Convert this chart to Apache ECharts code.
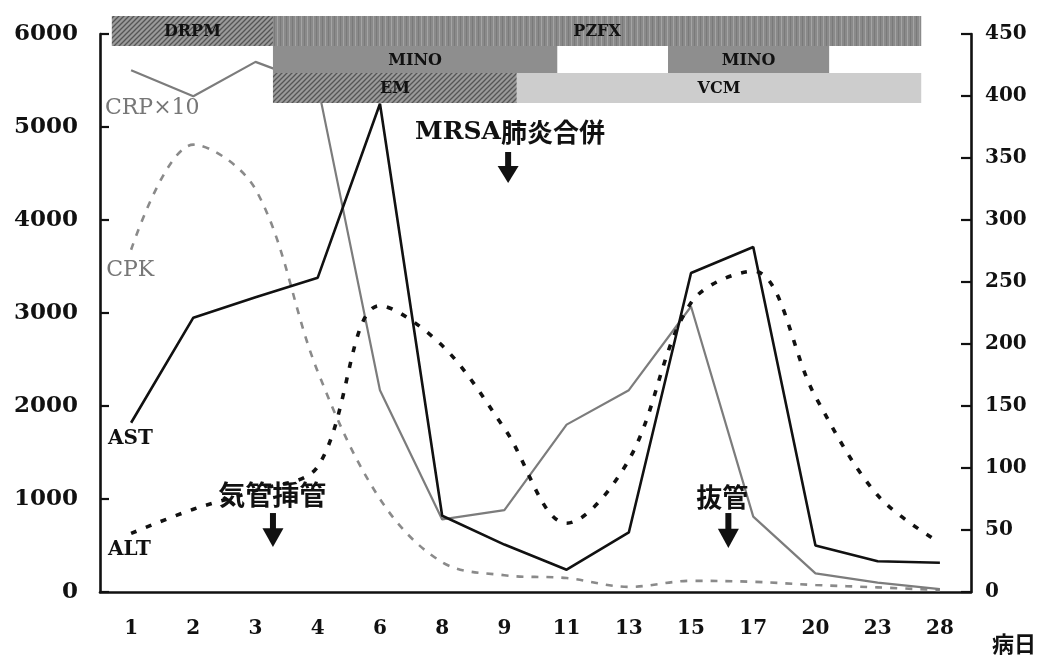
<!DOCTYPE html>
<html><head><meta charset="utf-8">
<script src="https://cdn.jsdelivr.net/npm/echarts@6/dist/echarts.min.js"></script>
<style>html,body{margin:0;padding:0;background:#fff}#c{width:1040px;height:657px}</style>
</head><body><div id="c"></div>
<script>
// ---- data ----
const days = ['1','2','3','4','6','8','9','11','13','15','17','20','23','28'];
const AST   = [1820, 2950, 3170, 3380, 5250, 820, 510, 240, 640, 3430, 3710, 500, 330, 315];
const ALT   = [630, 890, 1090, 1350, 3080, 2650, 1760, 740, 1420, 3110, 3450, 2100, 1040, 530];
const CRP10 = [5610, 5330, 5700, 5450, 2170, 780, 880, 1800, 2170, 3070, 810, 200, 100, 30];
const CPK   = [3680, 4810, 4330, 2370, 1000, 320, 180, 150, 55, 120, 110, 75, 50, 20];
const leftMax = 6000, leftStep = 1000;
const rightMax = 450, rightStep = 50;

// drug administration periods (in category-index units along the day axis)
const drugNames = ['DRPM', 'PZFX', 'MINO', 'MINO', 'EM', 'VCM'];
const drugStart = [0.19, 2.78, 2.78, 9.13, 2.78, 6.70];
const drugEnd   = [2.78, 13.2, 7.35, 11.72, 6.70, 13.2];
const drugRow   = [0, 0, 1, 1, 2, 2];
const drugFill  = ['diag', 'vert', 'solid', 'solid', 'diag', 'light'];

// annotations
const noteText = ['CRP×10', 'CPK', 'AST', 'ALT', '気管挿管', 'MRSA肺炎合併', '抜管'];
const noteU    = [0.08, 0.10, 0.13, 0.13, 2.77, 6.59, 10.0];
const noteV    = [5204, 3462, 1645, 452, 1043, 4946, 1022];
const arrowU   = [2.78, 6.56, 10.10];
const arrowTop = [849, 4731, 849];
const arrowBot = [484, 4398, 473];

// ---- styling helpers ----
const SERIF = '"DejaVu Serif", serif';
const CJK = '"Noto Sans CJK JP", sans-serif';
const rowTop = [6194, 5871, 5581];
const rowBot = [5871, 5581, 5258];

function pattern(kind) {
  const c = document.createElement('canvas');
  const ctx = c.getContext('2d');
  if (kind === 'diag') {
    c.width = 5; c.height = 5;
    ctx.fillStyle = '#9a9a9a'; ctx.fillRect(0, 0, 5, 5);
    ctx.strokeStyle = '#555'; ctx.lineWidth = 1.3;
    ctx.beginPath();
    ctx.moveTo(0, 5); ctx.lineTo(5, 0);
    ctx.moveTo(-1, 1); ctx.lineTo(1, -1);
    ctx.moveTo(4, 6); ctx.lineTo(6, 4);
    ctx.stroke();
  } else {
    c.width = 6; c.height = 6;
    ctx.fillStyle = '#8a8a8a'; ctx.fillRect(0, 0, 6, 6);
    ctx.fillStyle = '#a4a4a4'; ctx.fillRect(1, 0, 1, 6);
    ctx.fillStyle = '#7a7a7a'; ctx.fillRect(4, 0, 1, 6);
  }
  return { image: c, repeat: 'repeat' };
}
const fills = {
  diag: pattern('diag'),
  vert: pattern('vert'),
  solid: '#8e8e8e',
  light: '#cdcdcd'
};

const drugData = drugNames.map((n, i) => [drugStart[i], drugEnd[i], drugRow[i], n, drugFill[i]]);
const noteData = noteText.map((t, i) => [noteU[i], noteV[i], t]);
const arrowData = arrowU.map((u, i) => [u, arrowTop[i], arrowBot[i]]);

const noteStyles = {
  'CRP×10': { font: '22px ' + SERIF, fill: '#777', align: 'left' },
  'CPK':    { font: '22px ' + SERIF, fill: '#777', align: 'left' },
  'AST':    { font: 'bold 20px ' + SERIF, fill: '#111', align: 'left' },
  'ALT':    { font: 'bold 20px ' + SERIF, fill: '#111', align: 'left' },
  '気管挿管': { font: 'bold 27px ' + CJK, fill: '#111', align: 'center' },
  '抜管':    { font: 'bold 26px ' + CJK, fill: '#111', align: 'center' }
};

const chart = echarts.init(document.getElementById('c'), null, { renderer: 'canvas' });
const axisLineStyle = { color: '#111', width: 2.6 };
const plain = v => String(v);

chart.setOption({
  animation: false,
  backgroundColor: '#fff',
  grid: { left: 100, right: 69, top: 34, bottom: 65 },
  xAxis: [{
    type: 'category', data: days, boundaryGap: true,
    axisLine: { lineStyle: axisLineStyle },
    axisTick: { inside: true, length: 9, lineStyle: { color: '#111', width: 2.2 } },
    axisLabel: { margin: 27, color: '#111', fontFamily: SERIF, fontWeight: 'bold', fontSize: 20 }
  }, {
    type: 'value', min: 0, max: 14, show: false
  }],
  yAxis: [{
    type: 'value', min: 0, max: leftMax, interval: leftStep,
    axisLine: { show: true, lineStyle: axisLineStyle },
    axisTick: { show: true, inside: true, length: 9, lineStyle: { color: '#111', width: 2.2 } },
    splitLine: { show: false },
    axisLabel: { margin: 22, color: '#111', fontFamily: SERIF, fontWeight: 'bold', fontSize: 23, formatter: plain }
  }, {
    type: 'value', min: 0, max: rightMax, interval: rightStep, position: 'right',
    axisLine: { show: true, lineStyle: axisLineStyle },
    axisTick: { show: true, inside: true, length: 10, lineStyle: { color: '#111', width: 2.2 } },
    splitLine: { show: false },
    axisLabel: { margin: 14, color: '#111', fontFamily: SERIF, fontWeight: 'bold', fontSize: 20, formatter: plain }
  }],
  series: [
    {
      name: 'CPK', type: 'line', data: CPK, smooth: 0.35, symbol: 'none',
      lineStyle: { color: '#8a8a8a', width: 2.6, type: [7, 8] }, z: 2
    },
    {
      name: 'CRP×10', type: 'line', data: CRP10, symbol: 'none',
      lineStyle: { color: '#7c7c7c', width: 2.2 }, z: 3
    },
    {
      name: 'ALT', type: 'line', data: ALT, smooth: 0.35, symbol: 'none',
      lineStyle: { color: '#111', width: 3.6, type: [6, 10] }, z: 4
    },
    {
      name: 'AST', type: 'line', data: AST, symbol: 'none',
      lineStyle: { color: '#111', width: 2.6 }, z: 5
    },
    {
      name: 'drugs', type: 'custom', xAxisIndex: 1, yAxisIndex: 0, clip: false, z: 6,
      data: drugData,
      renderItem: function (params, api) {
        const row = api.value(2);
        const p0 = api.coord([api.value(0), rowTop[row]]);
        const p1 = api.coord([api.value(1), rowBot[row]]);
        const kind = drugData[params.dataIndex][4];
        return {
          type: 'group',
          children: [{
            type: 'rect',
            shape: { x: p0[0], y: p0[1], width: p1[0] - p0[0], height: p1[1] - p0[1] },
            style: { fill: fills[kind] }
          }, {
            type: 'text',
            style: {
              text: drugData[params.dataIndex][3],
              x: (p0[0] + p1[0]) / 2, y: (p0[1] + p1[1]) / 2 + 1,
              align: 'center', verticalAlign: 'middle',
              font: 'bold 16px ' + SERIF, fill: '#111'
            }
          }]
        };
      }
    },
    {
      name: 'notes', type: 'custom', xAxisIndex: 1, yAxisIndex: 0, clip: false, z: 7,
      data: noteData,
      renderItem: function (params, api) {
        const p = api.coord([api.value(0), api.value(1)]);
        const t = noteData[params.dataIndex][2];
        if (t === 'MRSA肺炎合併') {
          return {
            type: 'text',
            style: {
              text: '{a|MRSA}{b|肺炎合併}', x: p[0], y: p[1], align: 'center', verticalAlign: 'middle',
              rich: {
                a: { fontFamily: SERIF, fontWeight: 'bold', fontSize: 25, fill: '#111' },
                b: { fontFamily: CJK, fontWeight: 'bold', fontSize: 26, fill: '#111' }
              }
            }
          };
        }
        const s = noteStyles[t];
        return {
          type: 'text',
          style: { text: t, x: p[0], y: p[1], align: s.align, verticalAlign: 'middle', font: s.font, fill: s.fill }
        };
      }
    },
    {
      name: 'arrows', type: 'custom', xAxisIndex: 1, yAxisIndex: 0, clip: false, z: 7,
      data: arrowData,
      renderItem: function (params, api) {
        const top = api.coord([api.value(0), api.value(1)]);
        const bot = api.coord([api.value(0), api.value(2)]);
        const x = top[0], h = bot[1] - top[1];
        const headH = h * 0.55;
        return {
          type: 'group',
          children: [{
            type: 'rect',
            shape: { x: x - 3, y: top[1], width: 6, height: h - headH + 1 },
            style: { fill: '#111' }
          }, {
            type: 'polygon',
            shape: { points: [[x - 10.5, bot[1] - headH], [x + 10.5, bot[1] - headH], [x, bot[1]]] },
            style: { fill: '#111' }
          }]
        };
      }
    }
  ],
  graphic: [{
    type: 'text', right: 4, bottom: 2,
    style: { text: '病日', font: 'bold 22px ' + CJK, fill: '#111' }
  }]
});
</script>
</body></html>
